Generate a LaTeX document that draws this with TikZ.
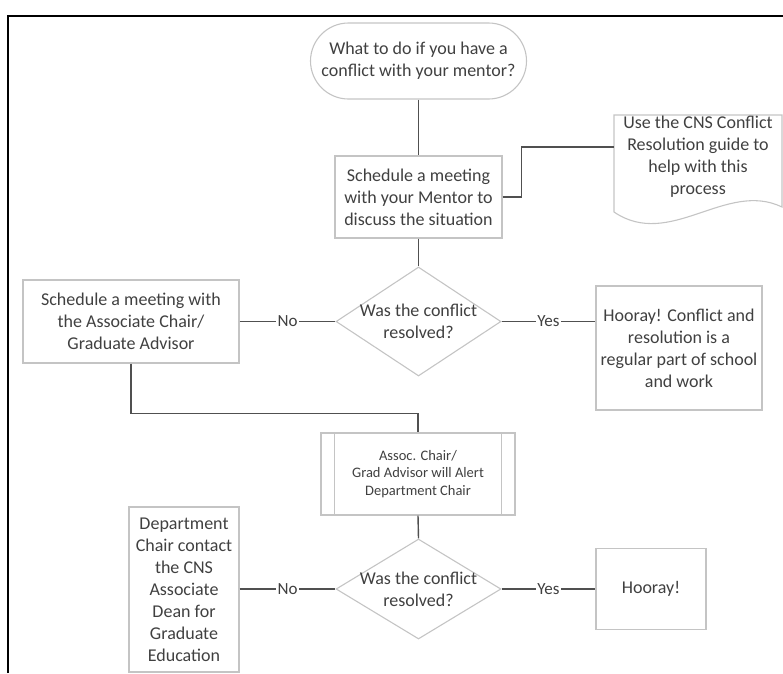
\documentclass[tikz,border=0pt]{standalone}
\usepackage{fontspec}
\setmainfont{Carlito}
\usetikzlibrary{shapes.geometric}
\definecolor{txtc}{HTML}{404040}
\definecolor{boxc}{HTML}{C4C4C4}
\definecolor{linec}{HTML}{505050}
\begin{document}
\begin{tikzpicture}[x=1pt,y=-1pt,
  every node/.style={text=txtc, font=\fontsize{18}{22}\selectfont},
  box/.style={draw=boxc, line width=1.1pt, align=center, inner sep=0pt},
  dia/.style={draw=boxc, line width=1.1pt, shape=diamond, inner sep=0pt, minimum width=165pt, minimum height=109pt},
  conn/.style={draw=linec, line width=1.4pt},
  lbl/.style={fill=white, inner sep=1.5pt, font=\fontsize{17}{20}\selectfont}]

\useasboundingbox (0,0) rectangle (783,673);
\draw[line width=2.2pt] (8,673) -- (8,16) -- (783,16);

% start
\node[box, rounded corners=38pt, minimum width=216pt, minimum height=76pt] (start) at (418.5,61) {What to do if you have a\\conflict with your mentor?};

% first meeting
\node[box, minimum width=167pt, minimum height=82pt] (meet) at (418.5,197) {Schedule a meeting\\with your Mentor to\\discuss the situation};

% document shape
\draw[draw=boxc, line width=1.1pt] (614,115) -- (782,115) -- (782,207) .. controls (726,180) and (670,250) .. (614,212) -- cycle;
\node[align=center] (doc) at (698,157) {Use the CNS Conflict\\Resolution guide to\\help with this\\process};
\coordinate (docin) at (614,147);

% first decision
\node[dia] (q1) at (418.5,321.5) {};
\node[align=center] (q1t) at (q1) {Was the conflict\\resolved?};

\node[box, minimum width=216pt, minimum height=83pt] (esc) at (131,321.5) {Schedule a meeting with\\the Associate Chair/\\Graduate Advisor};
\node[box, minimum width=166pt, minimum height=124pt] (yay1) at (679,348) {Hooray! Conflict and\\resolution is a\\regular part of school\\and work};

% predefined process
\node[box, minimum width=194pt, minimum height=82pt, font=\fontsize{14.5}{17.5}\selectfont] (alert) at (418,474) {Assoc. Chair/\\Grad Advisor will Alert\\Department Chair};
\draw[draw=boxc, line width=1.1pt] ([xshift=14pt]alert.north west) -- ([xshift=14pt]alert.south west);
\draw[draw=boxc, line width=1.1pt] ([xshift=-14pt]alert.north east) -- ([xshift=-14pt]alert.south east);

% second decision
\node[dia, minimum height=100pt] (q2) at (418.5,589) {};
\node[align=center] (q2t) at (q2) {Was the conflict\\resolved?};

\node[box, minimum width=110pt, minimum height=165pt] (dean) at (184,589.5) {Department\\Chair contact\\the CNS\\Associate\\Dean for\\Graduate\\Education};
\node[box, minimum width=110pt, minimum height=81pt] (yay2) at (651,589) {Hooray!};

% connectors
\draw[conn] (start.south) -- (meet.north);
\draw[conn] (meet.east) -- ++(19,0) |- (docin);
\draw[conn] (meet.south) -- (q1.north);
\draw[conn] (esc.east) -- node[lbl]{No} (q1.west);
\draw[conn] (q1.east) -- node[lbl]{Yes} (q1.east -| yay1.west);
\draw[conn] (esc.south) -- ++(0,50) -| (alert.north);
\draw[conn] (alert.south) -- (q2.north);
\draw[conn] (q2.west -| dean.east) -- node[lbl]{No} (q2.west);
\draw[conn] (q2.east) -- node[lbl]{Yes} (q2.east -| yay2.west);
\end{tikzpicture}
\end{document}
